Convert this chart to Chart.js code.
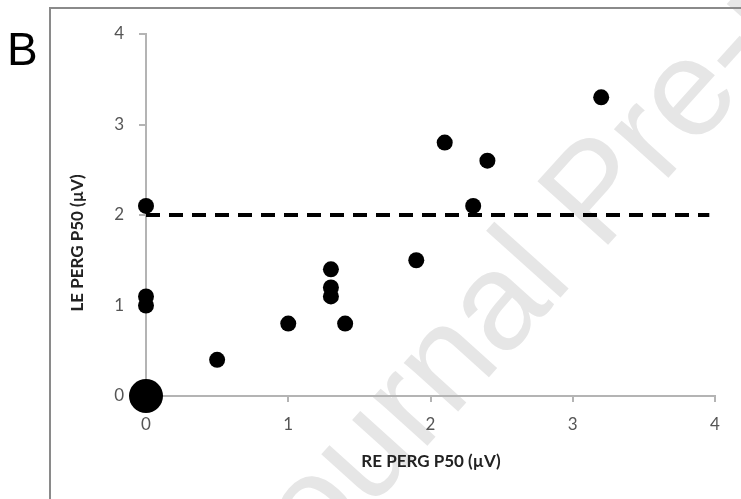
<!DOCTYPE html>
<html>
<head>
<meta charset="utf-8">
<script src="https://cdn.jsdelivr.net/npm/chart.js@4"></script>
<style>
  html, body { margin: 0; padding: 0; background: #fff; }
  #chart { display: block; }
</style>
</head>
<body>
<canvas id="chart" width="741" height="499"></canvas>
<script>
// RE vs LE PERG P50 amplitudes (µV)
const reP50 = [0, 0, 0, 0.5, 1.0, 1.3, 1.3, 1.3, 1.4, 1.9, 2.1, 2.3, 2.4, 3.2];
const leP50 = [2.1, 1.1, 1.0, 0.4, 0.8, 1.4, 1.2, 1.1, 0.8, 1.5, 2.8, 2.1, 2.6, 3.3];
// cluster of eyes sitting at the origin (drawn as a big dot)
const zeroRe = [0];
const zeroLe = [0];
// cut-off line
const cutX = [0, 3.96];
const cutY = [2, 2];
const axisTicks = [0, 1, 2, 3, 4];

const toPts = (xs, ys) => xs.map((x, i) => ({ x: x, y: ys[i] }));

const axisGrey = '#b4b4b4';
const tickFont = { family: 'Lato', size: 17 };

// frame, panel letter, watermark and axis titles
const decor = {
  id: 'decor',
  beforeDraw(chart) {
    const c = chart.ctx;
    c.save();
    c.fillStyle = '#fff';
    c.fillRect(0, 0, chart.width, chart.height);
    // watermark
    c.translate(272, 618);
    c.rotate(-48 * Math.PI / 180);
    c.font = '138px "Liberation Sans"';
    c.fillStyle = '#e6e6e6';
    c.textAlign = 'left';
    c.textBaseline = 'alphabetic';
    c.fillText('Journal Pre-proof', 0, 0);
    c.restore();
  },
  afterDraw(chart) {
    const c = chart.ctx;
    c.save();
    // frame
    c.strokeStyle = '#8a8a8a';
    c.lineWidth = 2;
    c.beginPath();
    c.moveTo(50, chart.height);
    c.lineTo(50, 8);
    c.lineTo(chart.width, 8);
    c.stroke();
    // panel letter
    c.fillStyle = '#000';
    c.font = '46px "Liberation Sans"';
    c.textAlign = 'left';
    c.textBaseline = 'alphabetic';
    c.fillText('B', 7, 65);
    // axis titles
    c.fillStyle = '#222';
    c.font = 'bold 17px Lato';
    c.textAlign = 'center';
    c.textBaseline = 'middle';
    c.fillText('RE PERG P50 (\u00b5V)', 431, 462);
    c.translate(78, 243);
    c.rotate(-Math.PI / 2);
    c.fillText('LE PERG P50 (\u00b5V)', 0, 0);
    c.restore();
  }
};

new Chart(document.getElementById('chart'), {
  type: 'scatter',
  data: {
    datasets: [
      {
        type: 'line',
        data: toPts(cutX, cutY),
        borderColor: '#000',
        borderWidth: 4,
        borderDash: [14, 9],
        pointRadius: 0,
        fill: false
      },
      {
        data: toPts(reP50, leP50),
        backgroundColor: '#000',
        borderWidth: 0,
        pointRadius: 8,
        clip: false
      },
      {
        data: toPts(zeroRe, zeroLe),
        backgroundColor: '#000',
        borderWidth: 0,
        pointRadius: 17,
        clip: false
      }
    ]
  },
  options: {
    responsive: false,
    animation: false,
    devicePixelRatio: 1,
    layout: { padding: { left: 0, right: 26, top: 34, bottom: 0 } },
    plugins: { legend: { display: false }, tooltip: { enabled: false } },
    scales: {
      x: {
        type: 'linear',
        min: 0,
        max: 4,
        afterBuildTicks: s => { s.ticks = axisTicks.map(v => ({ value: v })); },
        afterFit: s => { s.height = 103; },
        ticks: { color: '#555', font: tickFont, padding: 12 },
        grid: { drawOnChartArea: false, tickLength: 6, color: axisGrey, lineWidth: 2 },
        border: { color: axisGrey, width: 2 }
      },
      y: {
        type: 'linear',
        min: 0,
        max: 4,
        afterBuildTicks: s => { s.ticks = axisTicks.map(v => ({ value: v })); },
        afterFit: s => { s.width = 146; },
        ticks: { color: '#555', font: tickFont, padding: 15 },
        grid: { drawOnChartArea: false, tickLength: 7, color: axisGrey, lineWidth: 2 },
        border: { color: axisGrey, width: 2 }
      }
    }
  },
  plugins: [decor]
});
</script>
</body>
</html>
